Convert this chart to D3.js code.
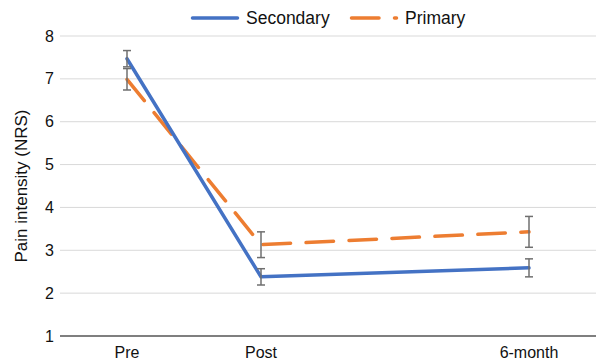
<!DOCTYPE html>
<html>
<head>
<meta charset="utf-8">
<script src="https://cdn.jsdelivr.net/npm/d3@7"></script>
<style>
  body { margin: 0; background: #fff; }
  text { font-family: "Liberation Sans", Arial, Helvetica, sans-serif; fill: #111; }
</style>
</head>
<body>
<svg width="597" height="360"></svg>
<script>
// Chart data
const categories = ["Pre", "Post", "", "6-month"];   // blank slot keeps the Excel spacing
const timepoints = ["Pre", "Post", "6-month"];
const secondary = [7.47, 2.38, 2.59];
const secondaryErr = [0.19, 0.19, 0.21];
const primary = [6.99, 3.13, 3.43];
const primaryErr = [0.25, 0.30, 0.36];
const yTicks = [1, 2, 3, 4, 5, 6, 7, 8];

const svg = d3.select("svg");
const margin = {left: 60, right: 1, top: 36, bottom: 24};
const width = 597, height = 360;

const x = d3.scaleBand()
    .domain(categories)
    .range([margin.left, width - margin.right]);
const y = d3.scaleLinear()
    .domain([1, 8])
    .range([height - margin.bottom, margin.top]);

const cx = d => x(d) + x.bandwidth() / 2;

// Gridlines
svg.append("g")
    .selectAll("line")
    .data(yTicks.filter(d => d > 1))
    .join("line")
    .attr("x1", margin.left)
    .attr("x2", width - margin.right)
    .attr("y1", d => y(d))
    .attr("y2", d => y(d))
    .attr("stroke", "#d9d9d9")
    .attr("stroke-width", 1);

// Y tick labels
svg.append("g")
    .selectAll("text")
    .data(yTicks)
    .join("text")
    .attr("x", margin.left - 6)
    .attr("y", d => y(d))
    .attr("dy", "0.35em")
    .attr("text-anchor", "end")
    .style("font-size", "16px")
    .text(d => d);

// X axis baseline
svg.append("line")
    .attr("x1", margin.left)
    .attr("x2", width - margin.right)
    .attr("y1", y(1))
    .attr("y2", y(1))
    .attr("stroke", "#000")
    .attr("stroke-width", 1.2);

// X labels
svg.append("g")
    .selectAll("text")
    .data(timepoints)
    .join("text")
    .attr("x", d => cx(d))
    .attr("y", y(1) + 22)
    .attr("text-anchor", "middle")
    .style("font-size", "16px")
    .text(d => d);

// Y axis title
svg.append("text")
    .attr("transform", `translate(27,${(y(1) + y(8)) / 2}) rotate(-90)`)
    .attr("text-anchor", "middle")
    .style("font-size", "17px")
    .text("Pain intensity (NRS)");

const line = d3.line()
    .x((d, i) => cx(timepoints[i]))
    .y(d => y(d));

const series = [
    {name: "Secondary", values: secondary, err: secondaryErr, color: "#4472c4", dash: null},
    {name: "Primary", values: primary, err: primaryErr, color: "#ed7d31", dash: "27.5,15.5"}
];

// Lines (primary drawn first, secondary on top like the reference)
series.slice().reverse().forEach(s => {
    svg.append("path")
        .datum(s.values)
        .attr("d", line)
        .attr("fill", "none")
        .attr("stroke", s.color)
        .attr("stroke-width", 3.5)
        .attr("stroke-linecap", "round")
        .attr("stroke-linejoin", "round")
        .attr("stroke-dasharray", s.dash);
});

// Error bars
series.forEach(s => {
    const g = svg.append("g")
        .attr("stroke", "#6f6f6f")
        .attr("stroke-width", 1.5);
    s.values.forEach((v, i) => {
        const px = cx(timepoints[i]);
        const lo = y(v - s.err[i]), hi = y(v + s.err[i]);
        g.append("line").attr("x1", px).attr("x2", px).attr("y1", lo).attr("y2", hi);
        g.append("line").attr("x1", px - 4).attr("x2", px + 4).attr("y1", lo).attr("y2", lo);
        g.append("line").attr("x1", px - 4).attr("x2", px + 4).attr("y1", hi).attr("y2", hi);
    });
});

// Legend
const legendItems = [
    {s: series[0], x: 191},
    {s: series[1], x: 350}
];
const lg = svg.append("g").attr("transform", "translate(0,18)");
legendItems.forEach(({s, x: lx}) => {
    lg.append("line")
        .attr("x1", lx + 1.5)
        .attr("x2", lx + 46.5)
        .attr("y1", 0)
        .attr("y2", 0)
        .attr("stroke", s.color)
        .attr("stroke-width", 3.5)
        .attr("stroke-linecap", "round")
        .attr("stroke-dasharray", s.dash);
    lg.append("text")
        .attr("x", lx + 55)
        .attr("y", 0)
        .attr("dy", "0.35em")
        .style("font-size", "17.5px")
        .text(s.name);
});
</script>
</body>
</html>
